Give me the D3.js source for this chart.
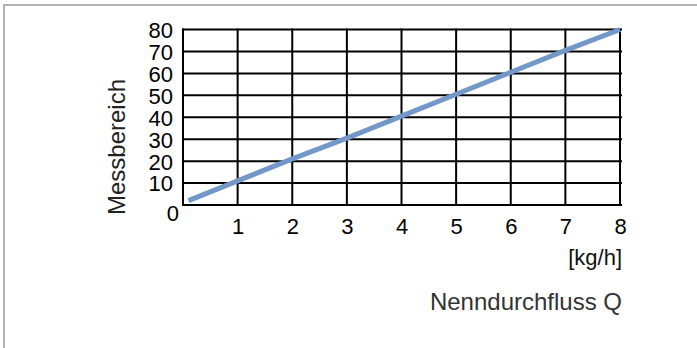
<!DOCTYPE html>
<html>
<head>
<meta charset="utf-8">
<script src="https://cdn.jsdelivr.net/npm/d3@7"></script>
<style>
  html, body { margin: 0; padding: 0; background: #fff; }
  svg { display: block; }
  text { font-family: "Liberation Sans", Arial, sans-serif; }
</style>
</head>
<body>
<script>
// ---- data ----
const xTicks = [1, 2, 3, 4, 5, 6, 7, 8];
const yTicks = [0, 10, 20, 30, 40, 50, 60, 70, 80];
const flowQ = [0.1, 1, 2, 3, 4, 5, 6, 7, 8];
const messbereich = [2, 11, 21, 30.5, 40.5, 50.5, 60.5, 70.5, 80];
const yLabel = "Messbereich";
const unitLabel = "[kg/h]";
const xLabel = "Nenndurchfluss Q";

const W = 697, H = 348;
const svg = d3.select("body").append("svg").attr("width", W).attr("height", H);

// outer frame (extends beyond right/bottom)
svg.append("rect").attr("x", 4).attr("y", 5).attr("width", 720).attr("height", 400)
  .attr("fill", "none").attr("stroke", "#b3b3b3").attr("stroke-width", 2);

const x = d3.scaleLinear().domain([0, 8]).range([183, 620]);
const y = d3.scaleLinear().domain([0, 80]).range([205, 29.5]);

// grid
const grid = svg.append("g").attr("stroke", "#000").attr("stroke-width", 2);
grid.selectAll("line.h").data(yTicks).join("line").attr("class", "h")
  .attr("x1", x(0) - 1).attr("x2", x(8) + 2)
  .attr("y1", d => y(d)).attr("y2", d => y(d));
grid.selectAll("line.v").data([0].concat(xTicks)).join("line").attr("class", "v")
  .attr("y1", y(80) - 1).attr("y2", y(0) + 1)
  .attr("x1", d => x(d)).attr("x2", d => x(d));

// axes labels via d3 axes
const xAxis = svg.append("g").attr("transform", `translate(0,${y(0)})`)
  .call(d3.axisBottom(x).tickValues(xTicks).tickSize(0).tickPadding(29).tickFormat(d3.format("d")));
xAxis.select(".domain").remove();
xAxis.selectAll("text").attr("font-size", 22).attr("fill", "#000")
  .attr("dy", null).attr("y", 29);

const yAxis = svg.append("g").attr("transform", `translate(${x(0)},0)`)
  .call(d3.axisLeft(y).tickValues(yTicks).tickSize(0).tickPadding(10).tickFormat(d3.format("d")));
yAxis.select(".domain").remove();
yAxis.selectAll("text").attr("font-size", 22).attr("fill", "#000").attr("dy", "0.36em");
yAxis.selectAll(".tick").filter(d => d === 0).select("text")
  .attr("x", -4).attr("dy", "0.72em");

// line
const line = d3.line().x((d, i) => x(flowQ[i])).y(d => y(d));
svg.append("path").datum(messbereich)
  .attr("d", line).attr("fill", "none")
  .attr("stroke", "#7198c9").attr("stroke-width", 5);

// titles
svg.append("text").attr("transform", `translate(125,147) rotate(-90)`)
  .attr("text-anchor", "middle").attr("font-size", 24).attr("fill", "#222").text(yLabel);
svg.append("text").attr("x", 622).attr("y", 265).attr("text-anchor", "end")
  .attr("font-size", 22).attr("fill", "#111").text(unitLabel);
svg.append("text").attr("x", 622).attr("y", 310).attr("text-anchor", "end")
  .attr("font-size", 24).attr("fill", "#333").text(xLabel);
</script>
</body>
</html>
